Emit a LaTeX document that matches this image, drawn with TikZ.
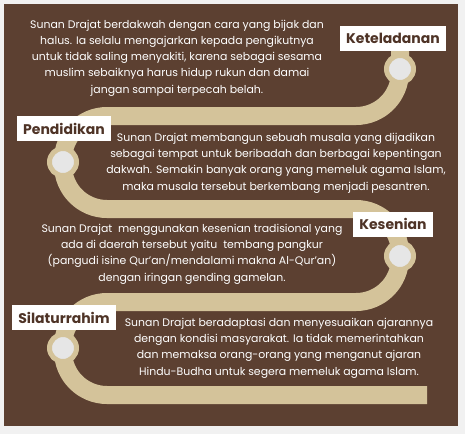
\documentclass[tikz,border=0pt]{standalone}
\usepackage{fontspec}
\setmainfont{Poppins}
\definecolor{bgc}{HTML}{5C4031}
\definecolor{margc}{HTML}{F1F1F1}
\definecolor{roadc}{HTML}{D4C39A}
\definecolor{dotc}{HTML}{E6E6E6}
\definecolor{lblc}{HTML}{4E3326}
\begin{document}
\begin{tikzpicture}[x=1pt,y=-1pt,
  road/.style={line width=18pt, draw=roadc, rounded corners=44pt},
  dot/.style={circle, fill=dotc, draw=roadc, line width=5pt, minimum size=27pt, inner sep=0pt},
  lbl/.style={fill=white, text=lblc, font=\fontsize{14}{16}\selectfont\bfseries, minimum height=25pt, inner xsep=6pt, inner ysep=0pt},
  body/.style={text=white, align=center, inner sep=0pt, font=\fontsize{10.9}{16.3}\selectfont}]
\useasboundingbox (0,0) rectangle (465,434);
\fill[margc] (0,0) rectangle (465,434);
\fill[bgc] (4,4) rectangle (458,426);
% road
\coordinate (r0) at (400,45);
\coordinate (r1) at (400,116);
\coordinate (r2) at (63,116);
\coordinate (r3) at (63,209);
\coordinate (r4) at (400,209);
\coordinate (r5) at (400,302);
\coordinate (r6) at (63,302);
\coordinate (r7) at (63,395);
\coordinate (r8) at (427,395);
\draw[road] (r0) -- (r1) -- (r2) -- (r3) -- (r4) -- (r5) -- (r6) -- (r7) -- (r8);
% dots
\node[dot] (d1) at (400,69) {};
\node[dot] (d2) at (63,162) {};
\node[dot] (d3) at (400,256) {};
\node[dot] (d4) at (63,348) {};
% labels
\node[lbl] (l1) at (393,38.5) {Keteladanan};
\node[lbl] (l2) at (64,128.5) {Pendidikan};
\node[lbl] (l3) at (393,224) {Kesenian};
\node[lbl] (l4) at (64,317.5) {Silaturrahim};
% texts
\node[body] (t1) at (177,58) {Sunan Drajat berdakwah dengan cara yang bijak dan\\
halus. Ia selalu mengajarkan kepada pengikutnya\\
untuk tidak saling menyakiti, karena sebagai sesama\\
muslim sebaiknya harus hidup rukun dan damai\\
jangan sampai terpecah belah.};
\node[body] (t2) at (276,163) {Sunan Drajat membangun sebuah musala yang dijadikan\\
sebagai tempat untuk beribadah dan berbagai kepentingan\\
dakwah. Semakin banyak orang yang memeluk agama Islam,\\
maka musala tersebut berkembang menjadi pesantren.};
\node[body] (t3) at (192,254) {Sunan Drajat~ menggunakan kesenian tradisional yang\\
ada di daerah tersebut yaitu~ tembang pangkur\\
(pangudi isine Qur’an/mendalami makna Al-Qur’an)\\
dengan iringan gending gamelan.};
\node[body] (t4) at (279,348) {Sunan Drajat beradaptasi dan menyesuaikan ajarannya\\
dengan kondisi masyarakat. Ia tidak memerintahkan\\
dan memaksa orang-orang yang menganut ajaran\\
Hindu-Budha untuk segera memeluk agama Islam.};
\end{tikzpicture}
\end{document}
